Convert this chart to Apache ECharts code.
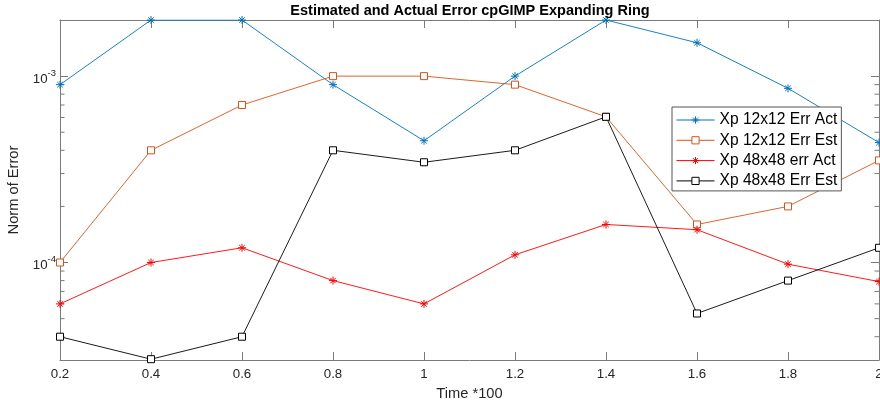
<!DOCTYPE html>
<html>
<head>
<meta charset="utf-8">
<script src="https://cdn.jsdelivr.net/npm/echarts@6/dist/echarts.min.js"></script>
<style>html,body{margin:0;padding:0;background:#fff;}#c{width:880px;height:404px;}</style>
</head>
<body>
<div id="c"></div>
<script>
var times = [0.2, 0.4, 0.6, 0.8, 1.0, 1.2, 1.4, 1.6, 1.8, 2.0];
var act12 = [9.0e-4, 2.0e-3, 2.0e-3, 9.0e-4, 4.5e-4, 1.0e-3, 2.0e-3, 1.51e-3, 8.6e-4, 4.4e-4];
var est12 = [1.0e-4, 4.0e-4, 7.0e-4, 1.0e-3, 1.0e-3, 9.0e-4, 6.05e-4, 1.6e-4, 2.0e-4, 3.53e-4];
var act48 = [6.0e-5, 1.0e-4, 1.2e-4, 8.0e-5, 6.0e-5, 1.1e-4, 1.6e-4, 1.5e-4, 9.8e-5, 7.9e-5];
var est48 = [4.0e-5, 3.03e-5, 4.0e-5, 4.0e-4, 3.45e-4, 4.0e-4, 6.05e-4, 5.33e-5, 8.0e-5, 1.2e-4];
var seriesNames = ['Xp 12x12 Err Act', 'Xp 12x12 Err Est', 'Xp 48x48 err Act', 'Xp 48x48 Err Est'];
var minorTickVals = [4e-5, 5e-5, 6e-5, 7e-5, 8e-5, 9e-5, 2e-4, 3e-4, 4e-4, 5e-4, 6e-4, 7e-4, 8e-4, 9e-4];
var titleText = 'Estimated and Actual Error cpGIMP Expanding Ring';
var xName = 'Time *100';
var yName = 'Norm of Error';

var xMin = 0.2, xMax = 2, yMin = 3.0e-5, yMax = 2.0e-3;
var axisCol = '#7a7a7a', textCol = '#262626';
var star = 'path://M5,0L5,10M0,5L10,5M1.6,1.6L8.4,8.4M1.6,8.4L8.4,1.6';
var seriesColors = ['#0072BD', '#D95319', '#FF0000', '#000000'];
var seriesSymbols = [star, 'rect', star, 'rect'];

function pairs(arr) { return times.map(function (t, i) { return [t, arr[i]]; }); }
function lineSeries(name, data, color, symbol, size) {
  var isStar = symbol === star;
  return {
    name: name, type: 'line', data: pairs(data), symbol: symbol, symbolSize: size,
    showAllSymbol: true,
    lineStyle: { color: color, width: 0.9 },
    itemStyle: { color: isStar ? color : '#fff', borderColor: color, borderWidth: 1 },
    emphasis: { disabled: true }, animation: false, z: 3
  };
}
function yLabel(v) {
  var l = Math.log10(v), r = Math.round(l);
  if (Math.abs(l - r) > 1e-6) return '';
  return '{b|10}{s|' + r + '}';
}

var chart = echarts.init(document.getElementById('c'), null, { renderer: 'canvas' });
chart.setOption({
  backgroundColor: '#fff',
  animation: false,
  title: {
    text: titleText, left: 470, textAlign: 'center', top: 3, padding: 0,
    textStyle: { fontFamily: 'Liberation Sans', fontSize: 14.5, fontWeight: 'bold', color: '#000' }
  },
  grid: { left: 60, right: 1, top: 20, bottom: 44, containLabel: false, outerBoundsMode: 'none' },
  legend: {
    data: seriesNames.map(function (n, i) {
      return { name: n, itemStyle: { color: seriesSymbols[i] === star ? seriesColors[i] : '#fff', borderColor: seriesColors[i], borderWidth: 1 } };
    }),
    orient: 'vertical', left: 672, top: 107,
    backgroundColor: '#fff', borderColor: '#555', borderWidth: 1,
    padding: [5, 4, 2, 4], itemWidth: 38, itemHeight: 9, itemGap: 4.3,
    lineStyle: { width: 1 },
    itemStyle: { borderWidth: 1 },
    textStyle: { fontFamily: 'Liberation Sans', fontSize: 15.6, color: '#000', lineHeight: 16 },
    selectedMode: false
  },
  xAxis: [{
    type: 'value', min: xMin, max: xMax, interval: 0.2, position: 'bottom',
    name: xName, nameLocation: 'middle', nameGap: 26,
    nameTextStyle: { fontFamily: 'Liberation Sans', fontSize: 14.67, color: textCol },
    axisLine: { show: true, lineStyle: { color: axisCol, width: 1 } },
    axisTick: { show: true, inside: true, length: 8, lineStyle: { color: axisCol } },
    axisLabel: { margin: 8, fontFamily: 'Liberation Sans', fontSize: 13.3, color: textCol,
      formatter: function (v) { return String(Math.round(v * 10) / 10); } },
    splitLine: { show: false }
  }, {
    type: 'value', min: xMin, max: xMax, interval: 0.2, position: 'top',
    axisLine: { show: true, lineStyle: { color: axisCol, width: 1 } },
    axisTick: { show: true, inside: true, length: 8, lineStyle: { color: axisCol } },
    axisLabel: { show: false }, splitLine: { show: false }
  }],
  yAxis: [{
    type: 'log', logBase: 10, min: yMin, max: yMax, position: 'left',
    name: yName, nameLocation: 'middle', nameGap: 36, nameRotate: 90,
    nameTextStyle: { fontFamily: 'Liberation Sans', fontSize: 14.67, color: textCol },
    axisLine: { show: true, lineStyle: { color: axisCol, width: 1 } },
    axisTick: { show: true, inside: true, length: 8, lineStyle: { color: axisCol } },
    axisLabel: {
      margin: 4, formatter: yLabel, showMinLabel: true, showMaxLabel: true,
      rich: {
        b: { fontFamily: 'Liberation Sans', fontSize: 13.3, color: textCol, padding: [6, 0, 0, 0] },
        s: { fontFamily: 'Liberation Sans', fontSize: 9.5, color: textCol, padding: [0, 0, 6, 0] }
      }
    },
    splitLine: { show: false }
  }, {
    type: 'log', logBase: 10, min: yMin, max: yMax, position: 'right',
    axisLine: { show: true, lineStyle: { color: axisCol, width: 1 } },
    axisTick: { show: true, inside: true, length: 8, lineStyle: { color: axisCol } },
    axisLabel: { show: false }, splitLine: { show: false }
  }],
  series: [
    lineSeries(seriesNames[0], act12, seriesColors[0], seriesSymbols[0], 8),
    lineSeries(seriesNames[1], est12, seriesColors[1], seriesSymbols[1], 7),
    lineSeries(seriesNames[2], act48, seriesColors[2], seriesSymbols[2], 8),
    lineSeries(seriesNames[3], est48, seriesColors[3], seriesSymbols[3], 7),
    {
      type: 'custom', silent: true, animation: false, z: 1,
      data: minorTickVals.map(function (v) { return [xMin, v]; }),
      renderItem: function (params, api) {
        var v = api.value(1);
        var pl = api.coord([xMin, v]);
        var pr = api.coord([xMax, v]);
        return {
          type: 'group', children: [
            { type: 'line', shape: { x1: pl[0], y1: pl[1], x2: pl[0] + 4.5, y2: pl[1] }, style: { stroke: axisCol, lineWidth: 1 } },
            { type: 'line', shape: { x1: pr[0], y1: pr[1], x2: pr[0] - 4.5, y2: pr[1] }, style: { stroke: axisCol, lineWidth: 1 } }
          ]
        };
      }
    }
  ]
});
</script>
</body>
</html>
